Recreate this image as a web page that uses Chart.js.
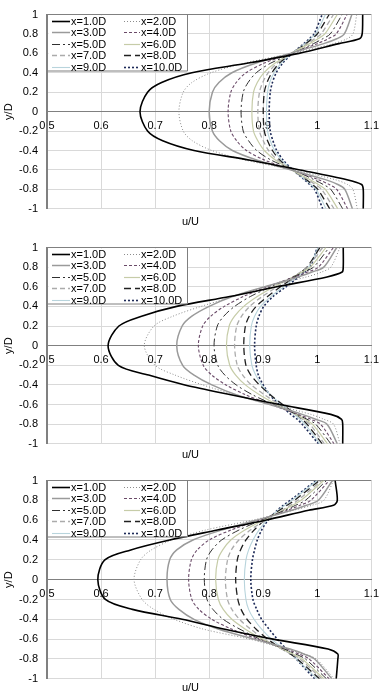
<!DOCTYPE html>
<html>
<head>
<meta charset="utf-8">
<script src="https://cdn.jsdelivr.net/npm/chart.js@4.4.1/dist/chart.umd.min.js"></script>
<style>
  html, body { margin: 0; padding: 0; background: #fff; }
  .panel { position: relative; width: 388px; height: 233px; }
</style>
</head>
<body>
<div class="panel"><canvas id="wake1"></canvas></div>
<div class="panel"><canvas id="wake2"></canvas></div>
<div class="panel"><canvas id="wake3"></canvas></div>
<script>
// y/D stations shared by every profile
const yD = [-1, -0.8, -0.75, -0.7, -0.6, -0.5, -0.4, -0.3, -0.2, 0, 0.2, 0.3, 0.4, 0.5, 0.6, 0.7, 0.75, 0.8, 1];

const seriesLabels = ['x=1.0D', 'x=2.0D', 'x=3.0D', 'x=4.0D', 'x=5.0D', 'x=6.0D', 'x=7.0D', 'x=8.0D', 'x=9.0D', 'x=10.0D'];
const xTicks = [0.5, 0.6, 0.7, 0.8, 0.9, 1, 1.1];
const yTicks = [-1, -0.8, -0.6, -0.4, -0.2, 0, 0.2, 0.4, 0.6, 0.8, 1];

// panel 1 (top) u/U
const top_x1 = [1.085, 1.085, 1.082, 1.055, 0.968, 0.876, 0.772, 0.714, 0.686, 0.672, 0.686, 0.712, 0.768, 0.872, 0.966, 1.040, 1.078, 1.083, 1.084];
const top_x2 = [1.074, 1.066, 1.056, 1.033, 0.956, 0.868, 0.805, 0.769, 0.752, 0.744, 0.752, 0.768, 0.803, 0.866, 0.953, 1.030, 1.055, 1.066, 1.073];
const top_x3 = [1.065, 1.051, 1.038, 1.015, 0.952, 0.889, 0.843, 0.819, 0.806, 0.800, 0.806, 0.818, 0.842, 0.887, 0.950, 1.012, 1.036, 1.050, 1.064];
const top_x4 = [1.056, 1.036, 1.022, 1.002, 0.953, 0.903, 0.869, 0.851, 0.840, 0.835, 0.840, 0.850, 0.868, 0.902, 0.952, 1.000, 1.020, 1.035, 1.055];
const top_x5 = [1.047, 1.025, 1.011, 0.994, 0.956, 0.915, 0.888, 0.873, 0.863, 0.859, 0.863, 0.872, 0.887, 0.914, 0.955, 0.993, 1.010, 1.024, 1.046];
const top_x6 = [1.038, 1.015, 1.002, 0.987, 0.953, 0.923, 0.902, 0.890, 0.882, 0.879, 0.882, 0.889, 0.901, 0.922, 0.952, 0.986, 1.001, 1.014, 1.037];
const top_x7 = [1.031, 1.008, 0.996, 0.983, 0.953, 0.927, 0.910, 0.900, 0.893, 0.890, 0.893, 0.899, 0.909, 0.926, 0.952, 0.982, 0.995, 1.007, 1.030];
const top_x8 = [1.023, 1.001, 0.991, 0.980, 0.954, 0.931, 0.917, 0.908, 0.902, 0.900, 0.902, 0.907, 0.916, 0.930, 0.953, 0.979, 0.990, 1.000, 1.022];
const top_x9 = [1.016, 0.998, 0.988, 0.978, 0.954, 0.934, 0.921, 0.913, 0.908, 0.906, 0.908, 0.912, 0.920, 0.933, 0.953, 0.977, 0.987, 0.997, 1.015];
const top_x10 = [1.010, 0.995, 0.986, 0.976, 0.955, 0.937, 0.925, 0.918, 0.913, 0.911, 0.913, 0.917, 0.924, 0.936, 0.954, 0.975, 0.985, 0.994, 1.009];

// panel 2 (middle) u/U
const mid_x1 = [1.047, 1.047, 1.045, 1.025, 0.930, 0.840, 0.755, 0.688, 0.632, 0.613, 0.633, 0.675, 0.740, 0.838, 0.925, 1.018, 1.046, 1.048, 1.048];
const mid_x2 = [1.042, 1.030, 1.012, 0.988, 0.919, 0.848, 0.788, 0.737, 0.700, 0.680, 0.698, 0.733, 0.785, 0.845, 0.905, 0.980, 1.008, 1.025, 1.042];
const mid_x3 = [1.037, 1.018, 0.997, 0.972, 0.912, 0.850, 0.805, 0.772, 0.751, 0.740, 0.750, 0.768, 0.800, 0.843, 0.903, 0.965, 0.990, 1.012, 1.036];
const mid_x4 = [1.031, 1.006, 0.988, 0.965, 0.914, 0.867, 0.831, 0.805, 0.789, 0.780, 0.788, 0.803, 0.828, 0.863, 0.908, 0.958, 0.982, 1.002, 1.030];
const mid_x5 = [1.025, 0.997, 0.981, 0.962, 0.919, 0.880, 0.850, 0.829, 0.816, 0.809, 0.815, 0.827, 0.847, 0.876, 0.914, 0.955, 0.975, 0.993, 1.022];
const mid_x6 = [1.019, 0.991, 0.977, 0.961, 0.925, 0.893, 0.867, 0.849, 0.838, 0.832, 0.837, 0.847, 0.864, 0.889, 0.920, 0.955, 0.972, 0.987, 1.016];
const mid_x7 = [1.013, 0.986, 0.973, 0.960, 0.930, 0.902, 0.878, 0.862, 0.852, 0.847, 0.851, 0.860, 0.875, 0.898, 0.926, 0.955, 0.969, 0.982, 1.010];
const mid_x8 = [1.009, 0.981, 0.972, 0.961, 0.936, 0.913, 0.893, 0.877, 0.868, 0.864, 0.867, 0.874, 0.887, 0.908, 0.932, 0.958, 0.970, 0.981, 1.005];
const mid_x9 = [1.005, 0.977, 0.968, 0.957, 0.934, 0.913, 0.897, 0.886, 0.879, 0.875, 0.878, 0.884, 0.895, 0.914, 0.938, 0.962, 0.974, 0.984, 1.002];
const mid_x10 = [1.002, 0.972, 0.963, 0.951, 0.930, 0.912, 0.900, 0.891, 0.887, 0.884, 0.887, 0.892, 0.901, 0.918, 0.942, 0.966, 0.977, 0.987, 1.000];

// panel 3 (bottom) u/U
const bot_x1 = [1.035, 1.038, 1.038, 1.020, 0.918, 0.829, 0.750, 0.658, 0.608, 0.594, 0.607, 0.655, 0.727, 0.815, 0.904, 0.984, 1.030, 1.037, 1.033];
const bot_x2 = [1.031, 0.998, 0.975, 0.942, 0.875, 0.790, 0.735, 0.698, 0.676, 0.661, 0.673, 0.693, 0.731, 0.793, 0.880, 0.956, 0.990, 1.012, 1.030];
const bot_x3 = [1.027, 0.995, 0.975, 0.950, 0.883, 0.818, 0.772, 0.744, 0.728, 0.722, 0.727, 0.740, 0.770, 0.823, 0.887, 0.953, 0.980, 1.002, 1.028];
const bot_x4 = [1.022, 0.985, 0.966, 0.943, 0.890, 0.842, 0.805, 0.781, 0.768, 0.762, 0.767, 0.778, 0.800, 0.840, 0.892, 0.945, 0.968, 0.988, 1.022];
const bot_x5 = [1.017, 0.978, 0.960, 0.939, 0.894, 0.857, 0.826, 0.807, 0.796, 0.791, 0.795, 0.805, 0.823, 0.855, 0.896, 0.940, 0.960, 0.978, 1.017];
const bot_x6 = [1.012, 0.972, 0.955, 0.936, 0.898, 0.867, 0.842, 0.826, 0.817, 0.812, 0.816, 0.825, 0.840, 0.866, 0.900, 0.937, 0.954, 0.970, 1.012];
const bot_x7 = [1.008, 0.968, 0.952, 0.934, 0.902, 0.877, 0.856, 0.842, 0.834, 0.830, 0.834, 0.841, 0.855, 0.876, 0.904, 0.935, 0.950, 0.964, 1.008];
const bot_x8 = [1.004, 0.963, 0.950, 0.935, 0.908, 0.887, 0.870, 0.859, 0.853, 0.849, 0.852, 0.858, 0.868, 0.883, 0.903, 0.930, 0.944, 0.958, 1.004];
const bot_x9 = [1.000, 0.961, 0.951, 0.939, 0.915, 0.897, 0.883, 0.873, 0.868, 0.865, 0.868, 0.873, 0.881, 0.892, 0.907, 0.928, 0.940, 0.953, 1.000];
const bot_x10 = [0.995, 0.961, 0.953, 0.943, 0.926, 0.911, 0.897, 0.888, 0.881, 0.877, 0.880, 0.884, 0.889, 0.897, 0.909, 0.926, 0.937, 0.950, 0.998];

const panels = [
  { id: 'wake1', series: [top_x1, top_x2, top_x3, top_x4, top_x5, top_x6, top_x7, top_x8, top_x9, top_x10], padTop: 5, titlePad: 7 },
  { id: 'wake2', series: [mid_x1, mid_x2, mid_x3, mid_x4, mid_x5, mid_x6, mid_x7, mid_x8, mid_x9, mid_x10], padTop: 8, titlePad: 5 },
  { id: 'wake3', series: [bot_x1, bot_x2, bot_x3, bot_x4, bot_x5, bot_x6, bot_x7, bot_x8, bot_x9, bot_x10], padTop: 9, titlePad: 3 },
];

// Excel-like line looks, one per x station
const lineLooks = [
  { color: '#000000', width: 1.6, dash: [] },
  { color: '#8c8c8c', width: 1, dash: [1, 2] },
  { color: '#9a9a9a', width: 1.5, dash: [] },
  { color: '#6a4a68', width: 1.1, dash: [3, 2] },
  { color: '#303030', width: 1, dash: [8, 3, 2, 3] },
  { color: '#c6cca8', width: 1.2, dash: [] },
  { color: '#ababab', width: 1.3, dash: [5, 3] },
  { color: '#202020', width: 1.3, dash: [7, 4] },
  { color: '#b8d4dc', width: 1.1, dash: [] },
  { color: '#1d2a58', width: 1.6, dash: [2, 2] },
];

Chart.defaults.font.family = '"Liberation Sans", Arial, sans-serif';
Chart.defaults.font.size = 11;
Chart.defaults.color = '#000';

// plain numbers like Excel: 1, 0.8, 0, -1
const plainTick = v => String(Math.round(v * 10) / 10);

const boxLegend = {
  id: 'boxLegend',
  afterDatasetsDraw(chart) {
    const ctx = chart.ctx;
    const a = chart.chartArea;
    const right = 187, bottom = a.top + 56;
    ctx.save();
    ctx.fillStyle = '#fff';
    ctx.fillRect(a.left + 1.5, a.top + 1, right - a.left - 1.5, bottom - a.top - 1);
    ctx.strokeStyle = '#7f7f7f';
    ctx.lineWidth = 1;
    ctx.beginPath();
    ctx.moveTo(right + 0.5, a.top);
    ctx.lineTo(right + 0.5, bottom + 0.5);
    ctx.lineTo(a.left, bottom + 0.5);
    ctx.stroke();
    ctx.font = '11px "Liberation Sans", Arial, sans-serif';
    ctx.textBaseline = 'middle';
    chart.data.datasets.forEach((ds, i) => {
      const col = i % 2, row = Math.floor(i / 2);
      const x0 = col ? 124 : 52, x1 = col ? 140 : 70;
      const y = Math.round(a.top + 6 + row * 11.5) + 0.5;
      ctx.strokeStyle = ds.borderColor;
      ctx.lineWidth = ds.borderWidth;
      ctx.setLineDash(ds.borderDash);
      ctx.beginPath();
      ctx.moveTo(x0, y);
      ctx.lineTo(x1, y);
      ctx.stroke();
      ctx.setLineDash([]);
      ctx.fillStyle = '#000';
      ctx.fillText(ds.label, x1 + 1, y);
    });
    ctx.restore();
  }
};

panels.forEach(p => {
  const datasets = p.series.map((u, i) => ({
    label: seriesLabels[i],
    data: yD.map((y, k) => ({ x: u[k], y: y })),
    showLine: true,
    pointRadius: 0,
    borderColor: lineLooks[i].color,
    borderWidth: lineLooks[i].width,
    borderDash: lineLooks[i].dash,
    tension: 0.3,
    fill: false,
  }));

  new Chart(document.getElementById(p.id), {
    type: 'scatter',
    data: { datasets: datasets },
    plugins: [boxLegend],
    options: {
      animation: false,
      responsive: true,
      maintainAspectRatio: false,
      events: [],
      layout: { padding: { top: p.padTop, right: 7, bottom: 4, left: 0 } },
      scales: {
        x: {
          type: 'linear',
          position: { y: 0 },
          min: xTicks[0],
          max: xTicks[xTicks.length - 1],
          afterBuildTicks: s => { s.ticks = xTicks.map(v => ({ value: v })); },
          ticks: { padding: 9, font: { size: 11, lineHeight: 1 }, color: '#000', callback: plainTick },
          grid: { color: '#d9d9d9', lineWidth: 1, drawTicks: false },
          border: { color: '#808080', width: 1 },
        },
        y: {
          type: 'linear',
          min: yTicks[0],
          max: yTicks[yTicks.length - 1],
          afterBuildTicks: s => { s.ticks = yTicks.map(v => ({ value: v })); },
          afterFit: s => { s.width = 47; },
          ticks: { padding: 9, font: { size: 11, lineHeight: 1 }, color: '#000', callback: plainTick },
          grid: {
            color: c => (c.tick && c.tick.value === 1 ? '#808080' : '#d9d9d9'),
            lineWidth: 1,
            drawTicks: false,
          },
          border: { color: '#808080', width: 2 },
          title: { display: true, text: 'y/D', font: { size: 11 }, color: '#000', padding: { top: 2, bottom: 0 } },
        },
      },
      plugins: {
        legend: { display: false },
        tooltip: { enabled: false },
        title: {
          display: true,
          position: 'bottom',
          text: 'u/U',
          color: '#000',
          font: { size: 11, weight: 'normal' },
          padding: { top: p.titlePad, bottom: 0 },
        },
      },
    },
  });
});
</script>
</body>
</html>
